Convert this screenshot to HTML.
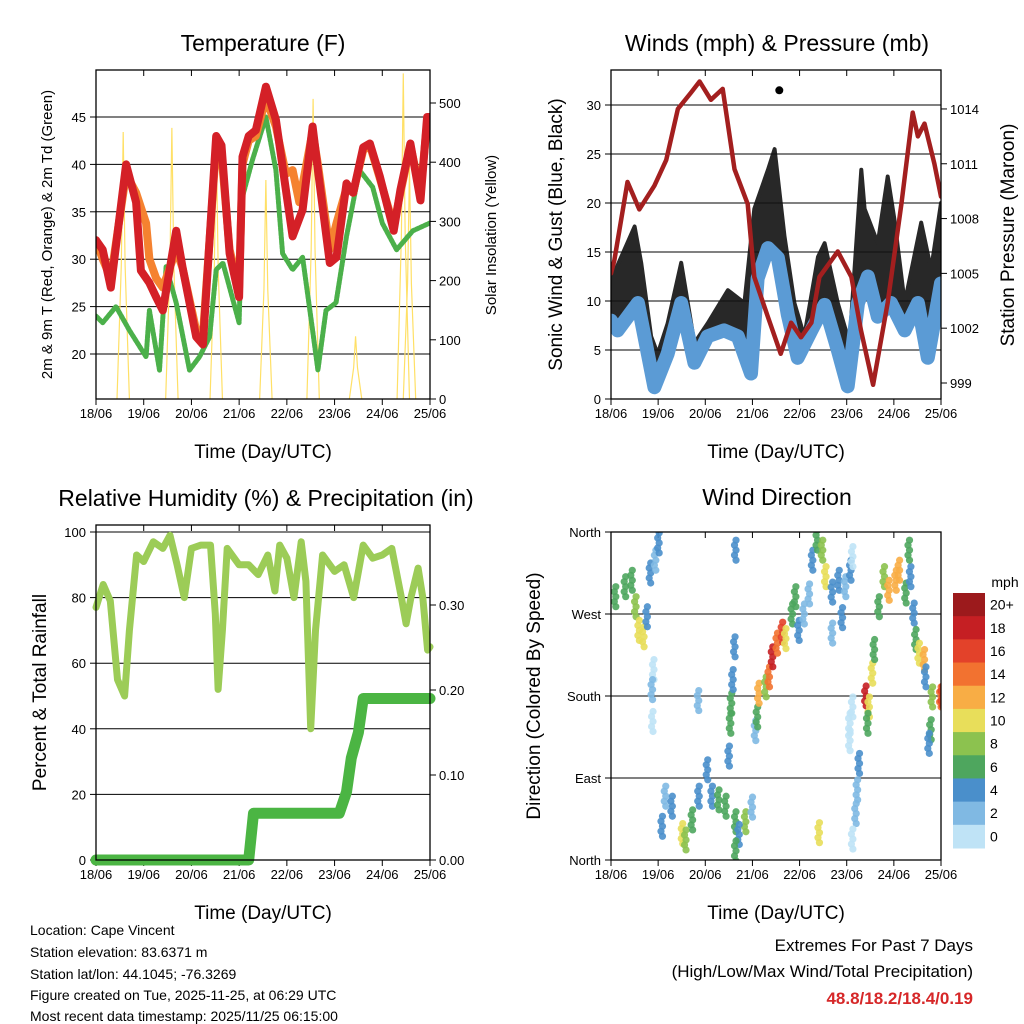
<!DOCTYPE html>
<html><head><meta charset="utf-8">
<style>
body{margin:0;background:#fff;}
svg{display:block;font-family:"Liberation Sans",sans-serif;}
</style></head>
<body>
<svg id="c" width="1024" height="1024" viewBox="0 0 1024 1024" xmlns="http://www.w3.org/2000/svg">
<rect width="1024" height="1024" fill="#fff"/>
<g id="g"></g>
<g font-size="14" fill="#000">
<text x="30" y="935">Location: Cape Vincent</text>
<text x="30" y="957">Station elevation: 83.6371 m</text>
<text x="30" y="979">Station lat/lon: 44.1045; -76.3269</text>
<text x="30" y="1000">Figure created on Tue, 2025-11-25, at 06:29 UTC</text>
<text x="30" y="1021">Most recent data timestamp: 2025/11/25 06:15:00</text>
</g>
<g text-anchor="end">
<text x="973" y="951" font-size="17">Extremes For Past 7 Days</text>
<text x="973" y="977" font-size="17">(High/Low/Max Wind/Total Precipitation)</text>
<text x="973" y="1004" font-size="17" font-weight="bold" fill="#d62728">48.8/18.2/18.4/0.19</text>
</g>
</svg>
<script>
// ---- Temperature data ----
const redT=[0,0.14,0.31,0.63,0.84,0.94,1.12,1.26,1.4,1.68,1.82,2.1,2.24,2.52,2.63,2.8,3.0,3.07,3.2,3.35,3.56,3.77,3.98,4.12,4.33,4.54,4.65,4.9,5.04,5.25,5.39,5.6,5.74,5.95,6.24,6.38,6.59,6.8,6.94,7.0];
const redV=[32,31,27,40,36,28.8,27.5,26,24.6,33,29,21.8,21,43,42,30.6,26,40.8,43,43.6,48.2,44.7,37.3,32.4,35.2,44,39.4,29.6,30.2,38,37,41.8,42.2,38.7,33,37.3,42.2,36.2,45,45];
const orgT=[0,0.14,0.31,0.63,0.84,1.05,1.12,1.26,1.4,1.68,1.82,2.1,2.24,2.52,2.63,2.8,3.0,3.07,3.2,3.35,3.56,3.77,3.98,4.12,4.26,4.54,4.65,4.9,5.04,5.25,5.39,5.6,5.74,5.95,6.24,6.38,6.59,6.8,6.94,7.0];
const orgV=[32,30,28,39,37,33.8,30,28,27,31,29,22.5,22,42,41,31,27,40,42.5,43,47,44,39,39.4,36,43.5,40,31,33.8,37.5,37,41.5,42,38.5,33.5,37,42,37,44.5,45];
const grnT=[0,0.14,0.42,0.7,1.05,1.12,1.33,1.47,1.68,1.96,2.17,2.38,2.52,2.66,2.8,3.0,3.07,3.28,3.56,3.77,3.91,4.12,4.33,4.54,4.65,4.82,5.03,5.25,5.52,5.8,6.0,6.3,6.64,6.99];
const grnV=[24,23.3,25,22.5,19.7,24.6,18.3,29.2,25.4,18.3,19.7,21.8,28.9,29.6,27,23.3,36.6,40.5,45,39.4,30.6,28.9,30.2,22.5,18.3,24.6,25.4,32.4,39.4,37.6,33.8,31,33,33.8];
const solarDay=[0.57,1.59,2.52,3.56,4.55,5.44,6.44,6.57];
const solarPeak=[451,458,443,370,507,106,550,390];
const tempTicks=[20,25,30,35,40,45];
const solarTicks=[0,100,200,300,400,500];
const dayLabels=["18/06","19/06","20/06","21/06","22/06","23/06","24/06","25/06"];
// ---- Wind data ----
const presT=[0,0.07,0.35,0.6,0.92,1.17,1.42,1.7,1.88,2.12,2.37,2.62,2.9,3.04,3.33,3.6,3.82,4.03,4.25,4.42,4.81,5.1,5.3,5.56,5.87,6.16,6.4,6.51,6.65,6.86,7.0];
const presV=[1005,1005.7,1010,1008.5,1009.8,1011.2,1014,1014.9,1015.5,1014.5,1015.1,1010.7,1008.8,1004.8,1002.6,1000.6,1002.3,1001.5,1002.3,1004.8,1006.2,1004.8,1001.9,998.9,1003.4,1008.8,1013.8,1012.5,1013.2,1011,1009.2];
const windT=[0,0.14,0.57,0.92,1.2,1.49,1.77,2.05,2.4,2.69,2.97,3.11,3.33,3.54,3.75,3.96,4.25,4.53,4.81,5.02,5.24,5.45,5.66,5.94,6.23,6.51,6.72,7.0];
const windV=[8,7,9.8,1.2,4.6,9.8,3.7,6.4,7,6.4,2.6,12.3,15.4,14.4,8.6,4.2,7,9.6,5,1.3,9.8,12.5,8.4,9.8,7,9.8,4.2,11.8];
const gustT=[0,0.1,0.5,0.64,0.85,0.99,1.2,1.49,1.77,2.05,2.48,2.83,3.04,3.33,3.47,3.68,3.89,4.1,4.39,4.53,4.81,5.06,5.31,5.38,5.66,5.87,6.01,6.23,6.58,6.79,7.0];
const gustV=[12,13.2,17.6,13.9,6.4,4.6,7.7,13.9,5.7,7.7,11.1,9.8,19.4,23.4,25.5,16.6,9.8,6.4,14.5,15.9,9.8,5.7,23.4,19.4,15.9,22.7,18.4,9.8,18,13.2,20];
const gustMaxT=[3.57];
const gustMaxV=[31.5];
const windTicks=[0,5,10,15,20,25,30];
const presTicks=[999,1002,1005,1008,1011,1014];
// ---- RH / precip ----
const rhT=[0,0.15,0.3,0.45,0.6,0.7,0.85,1.0,1.2,1.4,1.55,1.7,1.85,2.0,2.2,2.4,2.5,2.56,2.65,2.75,3.0,3.2,3.4,3.6,3.75,3.85,4.0,4.15,4.3,4.4,4.5,4.6,4.75,5.0,5.2,5.4,5.6,5.8,6.0,6.2,6.4,6.5,6.6,6.75,6.85,6.95,7.0];
const rhV=[77,84,79,55,50,70,93,91,97,95,99,90,80,95,96,96,75,52,70,95,90,90,87,93,82,96,92,80,97,85,40,70,93,88,90,80,96,92,93,95,80,72,80,89,80,64,65];
const rainT=[0,3.2,3.3,5.1,5.25,5.35,5.5,5.6,7.0];
const rainV=[0,0,0.055,0.055,0.08,0.12,0.15,0.19,0.19];
const rhTicks=[0,20,40,60,80,100];
const rainTicks=[0,0.1,0.2,0.3];
// ---- Wind direction (day, deg, mph) ----
const wdT=[0.07,0.28,0.42,0.5,0.57,0.67,0.74,0.81,0.92,0.99,0.88,0.85,0.86,1.06,1.13,1.27,1.49,1.56,1.7,1.84,2.02,2.12,2.26,2.41,2.62,2.83,2.97,2.69,2.62,2.48,2.51,2.53,2.56,2.6,2.62,1.83,3.04,3.08,3.11,3.26,3.33,3.4,3.5,3.61,3.68,3.82,3.89,3.96,4.07,4.18,4.25,4.35,4.46,4.53,4.67,4.81,4.95,5.06,5.1,4.67,4.88,4.39,5.1,5.04,5.04,5.24,5.2,5.17,5.1,5.38,5.45,5.42,5.52,5.56,5.66,5.77,5.87,6.02,6.09,6.23,6.33,6.3,6.4,6.44,6.51,6.62,6.65,6.79,6.97,6.76,6.72,7.0];
const wdV=[289,300,307,278,252,245,267,315,329,348,209,187,152,37,70,59,29,22,44,70,99,70,66,59,42,42,58,28,10,114,150,172,198,234,340,175,142,157,183,190,201,223,238,250,243,270,289,252,270,292,329,351,340,311,294,307,300,318,333,249,266,30,168,150,131,106,77,51,23,180,168,150,205,231,278,311,296,307,318,293,311,340,271,242,227,220,201,179,179,143,128,180];
const wdS=[6,6,7,8,10,10,4,4,2,4,1,3,1,4,2,4,10,9,6,4,4,5,6,6,7,8,2,5,6,4,6,6,4,4,4,2,2,6,12,9,14,18,14,16,10,7,6,4,3,2,4,7,8,10,5,4,2,4,1,2,4,10,1,1,1,4,3,2,1,18,10,7,10,7,6,8,12,12,12,6,4,6,4,6,10,12,4,8,14,6,4,16];
const spdColors=["#bfe3f6","#80b9e3","#4a8fcb","#4ea65e","#8cc24f","#e8de5a","#f8ad45","#f27230","#e3422a","#c51f23","#9c1a1c"];
const spdLabels=["0","2","4","6","8","10","12","14","16","18","20+"];

const NS="http://www.w3.org/2000/svg";
const G=document.getElementById('g');
function el(tag,attrs,parent,txt){const e=document.createElementNS(NS,tag);for(const k in attrs)e.setAttribute(k,attrs[k]);if(txt!==undefined)e.textContent=txt;(parent||G).appendChild(e);return e;}

function panel(name,x0,x1,y0,y1,title,tx,ty,yticks,yfn,ylab,yLabText,yLabX,yLabSize){
  const g=el('g',{});
  
  
  const t=el('text',{x:tx,y:ty,'font-size':23,'text-anchor':'middle'},g,title);
  
  
  yticks.forEach((v,i)=>{const y=yfn(v);
    el('line',{x1:x0,x2:x1,y1:y,y2:y,stroke:'#000','stroke-width':1},g);
    el('line',{x1:x0-6,x2:x0,y1:y,y2:y,stroke:'#000'},g);
    const lt=el('text',{x:x0-10,y:y+5,'font-size':13,'text-anchor':'end'},g,ylab[i]);
    
    
  });
  const sx=d=>x0+d*(x1-x0)/7;
  dayLabels.forEach((l,i)=>{const x=sx(i);
    el('line',{x1:x,x2:x,y1:y1,y2:y1+6,stroke:'#000'},g);
    el('line',{x1:x,x2:x,y1:y0,y2:y0+6,stroke:'#000'},g);
    const lt=el('text',{x:x,y:y1+19,'font-size':13,'text-anchor':'middle'},g,l);
    
    
  });
  const xt=el('text',{x:(x0+x1)/2,y:y1+59,'font-size':19,'text-anchor':'middle'},g,'Time (Day/UTC)');
  
  
  const cy=(y0+y1)/2;
  const yt=el('text',{x:yLabX,y:cy,'font-size':yLabSize,'text-anchor':'middle',transform:`rotate(-90 ${yLabX} ${cy})`},g,yLabText);
  
  
  return {g,sx};
}
function border(g,x0,x1,y0,y1){const r=el('rect',{x:x0,y:y0,width:x1-x0,height:y1-y0,fill:'none',stroke:'#000','stroke-width':1.3},g);}
function rightAxis(g,x1,ticks,fn,labels){
  ticks.forEach((v,i)=>{const y=fn(v);el('line',{x1:x1,x2:x1+6,y1:y,y2:y,stroke:'#000'},g);
    const t=el('text',{x:x1+9,y:y+5,'font-size':13},g,labels[i]);
    
    });
}
function rightTitle(g,text,x,cy,size){const t=el('text',{x:x,y:cy,'font-size':size,'text-anchor':'middle',transform:`rotate(-90 ${x} ${cy})`},g,text);}
function poly(g,ts,vs,sx,sy,attrs,name){const p=el('polyline',Object.assign({points:ts.map((t,i)=>sx(t).toFixed(1)+','+sy(vs[i]).toFixed(1)).join(' '),fill:'none','stroke-linejoin':'round','stroke-linecap':'round'},attrs),g);return p;}

// ===== Panel 1: Temperature =====
{const x0=96,x1=430,y0=70,y1=399;
 const ty=v=>354-(v-20)*9.48, sy=v=>399-v*0.592;
 const P=panel('temperature-panel',x0,x1,y0,y1,'Temperature (F)',263,51,tempTicks,ty,tempTicks.map(String),'2m & 9m T (Red, Orange) & 2m Td (Green)',52,15);
 const g=P.g,sx=P.sx;
 const clip=el('clipPath',{id:'cp1'},g);el('rect',{x:x0,y:y0,width:x1-x0,height:y1-y0},clip);
 const inner=el('g',{'clip-path':'url(#cp1)'},g);
 solarDay.forEach((d,i)=>{const p=el('polyline',{points:`${sx(d-0.13)},${sy(0)} ${sx(d-0.04)},${sy(solarPeak[i]*0.5)} ${sx(d)},${sy(solarPeak[i])} ${sx(d+0.04)},${sy(solarPeak[i]*0.5)} ${sx(d+0.13)},${sy(0)}`,fill:'none',stroke:'#ffe066','stroke-width':1.2},inner);});
 poly(inner,grnT,grnV,sx,ty,{stroke:'#4bb04a','stroke-width':5,'stroke-dasharray':'3 1.5'},'dewpoint-2m-line');
 poly(inner,orgT,orgV,sx,ty,{stroke:'#f58230','stroke-width':8},'temp-9m-line');
 poly(inner,redT,redV,sx,ty,{stroke:'#d42027','stroke-width':8},'temp-2m-line');
 border(g,x0,x1,y0,y1);
 rightAxis(g,x1,solarTicks,sy,solarTicks.map(String));
 rightTitle(g,'Solar Insolation (Yellow)',496,235,15);
}
// ===== Panel 2: Winds =====
{const x0=611,x1=941,y0=70,y1=399;
 const wy=v=>399-v*9.8, py=p=>383-(p-999)*18.27;
 const P=panel('winds-panel',x0,x1,y0,y1,'Winds (mph) & Pressure (mb)',777,51,windTicks,wy,windTicks.map(String),'Sonic Wind & Gust (Blue, Black)',562,19);
 const g=P.g,sx=P.sx;
 const clip=el('clipPath',{id:'cp2'},g);el('rect',{x:x0,y:y0,width:x1-x0,height:y1-y0},clip);
 const inner=el('g',{'clip-path':'url(#cp2)'},g);
 // gust band: top = gust series, bottom = wind series
 const top=gustT.map((t,i)=>sx(t).toFixed(1)+','+wy(gustV[i]).toFixed(1));
 const bot=windT.map((t,i)=>sx(t).toFixed(1)+','+wy(windV[i]).toFixed(1)).reverse();
 const band=el('polygon',{points:top.concat(bot).join(' '),fill:'#111',opacity:0.9,stroke:'#111','stroke-width':4,'stroke-linejoin':'round'},inner);
 
 
 gustMaxT.forEach((t,i)=>{const c=el('circle',{cx:sx(t),cy:wy(gustMaxV[i]),r:4,fill:'#000'},inner);});
 poly(inner,windT,windV,sx,wy,{stroke:'#5b9bd5','stroke-width':14},'sonic-wind-line');
 poly(inner,presT,presV,sx,py,{stroke:'#a31f1f','stroke-width':4.5},'pressure-line');
 border(g,x0,x1,y0,y1);
 rightAxis(g,x1,presTicks,py,presTicks.map(String));
 rightTitle(g,'Station Pressure (Maroon)',1014,235,19);
}
// ===== Panel 3: RH =====
{const x0=96,x1=430,y0=525,y1=860;
 const hy=v=>860-v*3.28, ry=v=>860-v*850;
 const P=panel('humidity-panel',x0,x1,y0,y1,'Relative Humidity (%) & Precipitation (in)',266,506,rhTicks,hy,rhTicks.map(String),'Percent & Total Rainfall',46,19);
 const g=P.g,sx=P.sx;
 poly(g,rhT,rhV,sx,hy,{stroke:'#9ccc57','stroke-width':7},'humidity-line');
 poly(g,rainT,rainV,sx,ry,{stroke:'#4bb543','stroke-width':11},'precip-line');
 border(g,x0,x1,y0,y1);
 rightAxis(g,x1,rainTicks,ry,rainTicks.map(v=>v.toFixed(2)));
}
// ===== Panel 4: Wind direction =====
{const x0=611,x1=941,y0=532,y1=860;
 const dy=d=>860-d*0.9111;
 const dirTicks=[0,90,180,270,360];
 const P=panel('wind-direction-panel',x0,x1,y0,y1,'Wind Direction',777,505,dirTicks,dy,['North','East','South','West','North'],'Direction (Colored By Speed)',540,19);
 const g=P.g,sx=P.sx;
 const clip=el('clipPath',{id:'cp4'},g);el('rect',{x:x0,y:y0,width:x1-x0,height:y1-y0},clip);
 const inner=el('g',{'clip-path':'url(#cp4)'},g);
 wdT.forEach((t,i)=>{const ci=Math.min(10,Math.floor(wdS[i]/2));
   [-4,-2,0,2,4].forEach(k=>{const c=el('circle',{cx:sx(t)+(k%4===0?1.5:0),cy:dy(wdV[i])+k*2.5,r:3.6,fill:spdColors[ci],opacity:0.9},inner);
   
   });});
 border(g,x0,x1,y0,y1);
 const cb=el('g',{},g);
 
 
 const mt=el('text',{x:1005,y:587,'font-size':14,'text-anchor':'middle'},cb,'mph');
 
 
 const bh=(848-593)/11;
 for(let i=0;i<11;i++){const idx=10-i,y=593+i*bh;
   const r=el('rect',{x:953,y:y,width:32,height:bh+0.5,fill:spdColors[idx]},cb);
   
   
   const t=el('text',{x:990,y:y+bh/2+5,'font-size':14},cb,spdLabels[idx]);
   
   }
}
</script>
</body></html>
